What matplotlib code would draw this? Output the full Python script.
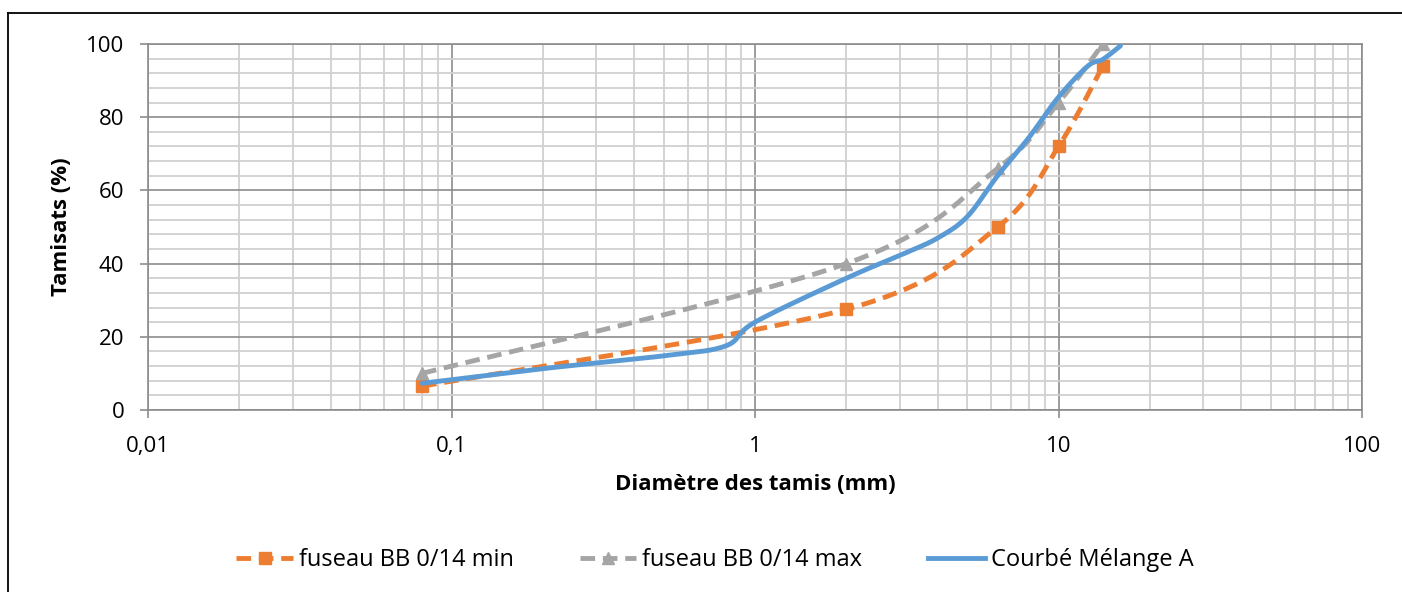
import numpy as np
import matplotlib
matplotlib.use("Agg")
import matplotlib.pyplot as plt
from matplotlib.lines import Line2D
from matplotlib.ticker import FixedLocator, FuncFormatter, MultipleLocator, LogLocator, NullFormatter

plt.rcParams['font.family'] = ['Open Sans', 'DejaVu Sans']

# Sieve sizes (mm) and passing percentages
fuseau_sizes = [0.08, 2, 6.3, 10, 14]
fuseau_min = [6.5, 27.5, 50, 72, 94]
fuseau_max = [10, 40, 66, 84, 100]

melange_sizes = [0.08, 0.2, 0.5, 0.8, 1, 2, 3.15, 4, 5, 6.3, 8, 10, 12.5, 14, 16]
melange_a = [7.3, 11.3, 14.8, 17.5, 24, 36, 43, 47, 52.8, 64, 74.5, 85.5, 94, 95.8, 99.5]

x_ticks = [0.01, 0.1, 1, 10, 100]
x_tick_labels = ["0,01", "0,1", "1", "10", "100"]

ORANGE = "#ED7D31"
GREY = "#A5A5A5"
BLUE = "#5B9BD5"

LW = 3.5
DASH = (3.0, 1.6)


def smooth(xs, ys, n=40):
    """Smoothed line (cardinal spline) through points, computed in log-x space."""
    lx = np.log10(np.asarray(xs, float))
    y = np.asarray(ys, float)
    px = np.concatenate([[lx[0]], lx, [lx[-1]]])
    py = np.concatenate([[y[0]], y, [y[-1]]])
    out_x, out_y = [], []
    t = np.linspace(0, 1, n)
    for i in range(1, len(px) - 2):
        p0 = np.array([px[i], py[i]])
        p3 = np.array([px[i + 1], py[i + 1]])
        c1 = p0 + (np.array([px[i + 1], py[i + 1]]) - np.array([px[i - 1], py[i - 1]])) / 6.0
        c2 = p3 - (np.array([px[i + 2], py[i + 2]]) - np.array([px[i], py[i]])) / 6.0
        b = ((1 - t) ** 3)[:, None] * p0 + (3 * (1 - t) ** 2 * t)[:, None] * c1 \
            + (3 * (1 - t) * t ** 2)[:, None] * c2 + (t ** 3)[:, None] * p3
        out_x.append(b[:, 0])
        out_y.append(b[:, 1])
    return 10 ** np.concatenate(out_x), np.concatenate(out_y)


fig = plt.figure(figsize=(14.02, 5.92), dpi=100)
ax = fig.add_axes([148 / 1402, 1 - 410 / 592, (1362 - 148) / 1402, (410 - 44) / 592])

ax.set_xscale("log")
ax.set_xlim(0.01, 100)
ax.set_ylim(0, 100)

MAJOR = "#8c8c8c"
MINOR = "#d0d0d0"
ax.xaxis.set_major_locator(FixedLocator(x_ticks))
ax.xaxis.set_major_formatter(FuncFormatter(lambda v, p: x_tick_labels[x_ticks.index(v)] if v in x_ticks else ""))
ax.xaxis.set_minor_locator(LogLocator(base=10, subs=np.arange(2, 10)))
ax.xaxis.set_minor_formatter(NullFormatter())
ax.yaxis.set_major_locator(MultipleLocator(20))
ax.yaxis.set_minor_locator(MultipleLocator(4))

ax.grid(which="minor", color=MINOR, lw=1.3, zorder=0)
ax.grid(which="major", color=MAJOR, lw=1.2, zorder=0.5)
ax.set_axisbelow(True)
for s in ax.spines.values():
    s.set_color(MAJOR)
    s.set_linewidth(1.2)

ax.tick_params(which="major", length=6, width=1.2, color=MAJOR, labelsize=16)
ax.tick_params(axis="x", which="major", pad=13)
ax.tick_params(axis="y", which="major", pad=11)
ax.tick_params(which="minor", length=0)

# Smoothed curves
sx, sy = smooth(fuseau_sizes, fuseau_min)
ax.plot(sx, sy, color=ORANGE, lw=LW, dashes=DASH, zorder=3)
ax.plot(fuseau_sizes, fuseau_min, ls="none", marker="s", ms=8, color=ORANGE, zorder=3)

sx, sy = smooth(fuseau_sizes, fuseau_max)
ax.plot(sx, sy, color=GREY, lw=LW, dashes=DASH, zorder=3)
ax.plot(fuseau_sizes, fuseau_max, ls="none", marker="^", ms=8, color=GREY, zorder=3)

sx, sy = smooth(melange_sizes, melange_a)
ax.plot(sx, sy, color=BLUE, lw=LW, solid_capstyle="round", zorder=4)

ax.set_xlabel("Diamètre des tamis (mm)", fontsize=16, fontweight="bold", labelpad=12)
ax.set_ylabel("Tamisats (%)", fontsize=16, fontweight="bold", labelpad=10)

handles = [
    Line2D([], [], color=ORANGE, lw=LW, dashes=DASH, marker="s", ms=8),
    Line2D([], [], color=GREY, lw=LW, dashes=DASH, marker="^", ms=8),
    Line2D([], [], color=BLUE, lw=LW),
]
labels = ["fuseau BB 0/14 min", "fuseau BB 0/14 max", "Courbé Mélange A"]
fig.legend(handles, labels, loc="center", bbox_to_anchor=(0.51, 1 - 560 / 592), ncol=3,
           frameon=False, fontsize=17, numpoints=1, handlelength=2.4,
           handletextpad=0.25, columnspacing=2.8)

# Chart frame
fig.add_artist(Line2D([8 / 1402, 1.0], [1 - 13 / 592, 1 - 13 / 592], color="black", lw=1.3))
fig.add_artist(Line2D([8 / 1402, 8 / 1402], [0, 1 - 13 / 592], color="black", lw=1.3))

fig.savefig("out.png", dpi=100, facecolor="white")
